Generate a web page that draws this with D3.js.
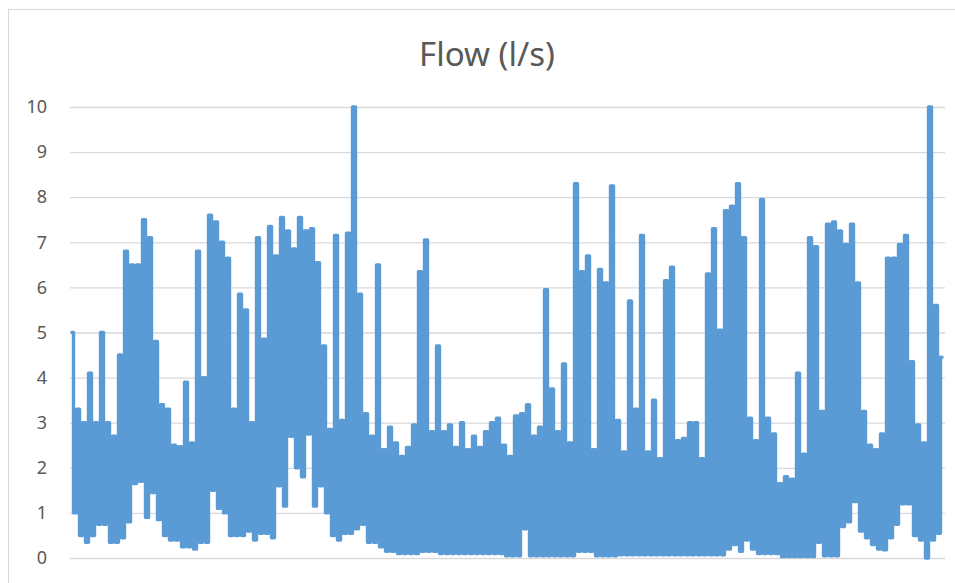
<!DOCTYPE html>
<html>
<head>
<meta charset="utf-8">
<script src="https://cdn.jsdelivr.net/npm/d3@7"></script>
<style>
  html, body { margin: 0; padding: 0; background: #fff; }
  #chart { width: 955px; height: 583px; }
</style>
</head>
<body>
<div id="chart"></div>
<script>
// Upper readings of the flow meter, one per sample pair, left to right
const peakFlow = [
    5.0, 3.3, 3.0, 4.1, 3.0, 5.0, 3.0, 2.7, 4.5, 6.8,
    6.5, 6.5, 7.5, 7.1, 4.8, 3.4, 3.3, 2.5, 2.47, 3.9,
    2.55, 6.8, 4.0, 7.6, 7.45, 7.0, 6.65, 3.3, 5.85, 5.5,
    3.0, 7.1, 4.85, 7.35, 6.7, 7.55, 7.25, 6.85, 7.55, 7.25,
    7.3, 6.55, 4.7, 2.85, 7.15, 3.05, 7.2, 10.0, 5.85, 3.2,
    2.7, 6.5, 2.4, 2.9, 2.55, 2.25, 2.45, 2.95, 6.35, 7.05,
    2.8, 4.7, 2.8, 2.95, 2.45, 3.0, 2.4, 2.7, 2.45, 2.8,
    3.0, 3.1, 2.5, 2.25, 3.15, 3.2, 3.4, 2.7, 2.9, 5.95,
    3.75, 2.8, 4.3, 2.55, 8.3, 6.35, 6.7, 2.4, 6.4, 6.1,
    8.25, 3.05, 2.35, 5.7, 3.3, 7.15, 2.35, 3.5, 2.2, 6.15,
    6.45, 2.6, 2.65, 3.0, 3.0, 2.2, 6.3, 7.3, 5.05, 7.7,
    7.8, 8.3, 7.1, 3.1, 2.6, 7.95, 3.1, 2.75, 1.65, 1.8,
    1.75, 4.1, 2.3, 7.1, 6.9, 3.25, 7.4, 7.45, 7.25, 6.95,
    7.4, 6.1, 3.25, 2.5, 2.4, 2.75, 6.65, 6.65, 6.95, 7.15,
    4.35, 2.95, 2.55, 10.0, 5.6
];

// Lower readings in between the peaks
const baseFlow = [
    1.0, 0.5, 0.35, 0.5, 0.75, 0.75, 0.35, 0.35, 0.45, 0.8,
    1.65, 1.7, 0.9, 1.45, 0.85, 0.5, 0.4, 0.4, 0.25, 0.25,
    0.2, 0.35, 0.35, 1.5, 1.1, 1.0, 0.5, 0.5, 0.5, 0.6,
    0.4, 0.55, 0.55, 0.45, 1.6, 1.15, 2.7, 2.0, 1.8, 2.75,
    1.15, 1.6, 1.0, 0.5, 0.4, 0.55, 0.55, 0.65, 0.75, 0.35,
    0.35, 0.25, 0.15, 0.15, 0.1, 0.1, 0.1, 0.1, 0.15, 0.15,
    0.15, 0.1, 0.1, 0.1, 0.1, 0.1, 0.1, 0.1, 0.1, 0.1,
    0.1, 0.1, 0.05, 0.05, 0.05, 0.65, 0.05, 0.05, 0.05, 0.05,
    0.05, 0.05, 0.05, 0.05, 0.15, 0.15, 0.15, 0.05, 0.05, 0.05,
    0.05, 0.07, 0.07, 0.07, 0.07, 0.07, 0.07, 0.07, 0.07, 0.07,
    0.07, 0.07, 0.07, 0.07, 0.07, 0.07, 0.07, 0.07, 0.07, 0.2,
    0.3, 0.15, 0.4, 0.2, 0.1, 0.1, 0.1, 0.1, 0.03, 0.03,
    0.03, 0.03, 0.03, 0.03, 0.35, 0.05, 0.05, 0.05, 0.7, 0.8,
    1.25, 0.6, 0.45, 0.3, 0.2, 0.18, 0.45, 0.75, 1.2, 1.2,
    0.5, 0.4, 0.0, 0.4, 0.55
];

const lastReading = 4.45;

const yTicks = [0, 1, 2, 3, 4, 5, 6, 7, 8, 9, 10];
const chartTitle = "Flow (l/s)";

// Series in reading order: peak, base, peak, base, ... then the last value
const flow = peakFlow.flatMap((p, i) => [p, baseFlow[i]]).concat([lastReading]);

// 1. Dimensions
const outerWidth = 955;
const outerHeight = 583;
const plot = { left: 70, right: 945, top: 107, bottom: 558 };

const svg = d3.select("#chart").append("svg")
    .attr("width", outerWidth)
    .attr("height", outerHeight);

// Chart area frame (right and bottom edges fall outside the picture)
svg.append("rect")
    .attr("x", 8.5)
    .attr("y", 9.5)
    .attr("width", 1000)
    .attr("height", 700)
    .attr("fill", "#fff")
    .attr("stroke", "#d9d9d9")
    .attr("stroke-width", 1);

// 2. Scales
const x = d3.scaleLinear()
    .domain([0, flow.length - 1])
    .range([72, 942]);

const y = d3.scaleLinear()
    .domain([0, 10])
    .range([plot.bottom, plot.top]);

// 3. Gridlines + tick labels
const yAxis = d3.axisLeft(y)
    .tickValues(yTicks)
    .tickSize(-(plot.right - plot.left))
    .tickPadding(23)
    .tickFormat(d3.format("d"));

const axisG = svg.append("g")
    .attr("transform", `translate(${plot.left},0)`)
    .call(yAxis);

axisG.select(".domain").remove();
axisG.selectAll(".tick line")
    .attr("stroke", "#d9d9d9")
    .attr("stroke-width", 1.3);
axisG.selectAll(".tick text")
    .style("font-family", "'Noto Sans', 'Open Sans', sans-serif")
    .style("font-size", "18px")
    .style("fill", "#595959");

// 4. Title
svg.append("text")
    .attr("x", 487)
    .attr("y", 66)
    .attr("text-anchor", "middle")
    .style("font-family", "'Noto Sans', 'Open Sans', sans-serif")
    .style("font-size", "33px")
    .style("fill", "#595959")
    .text(chartTitle);

// 5. Flow line — step curve so the dense readings fill in solid like the original
const line = d3.line()
    .x((d, i) => x(i))
    .y(d => y(d))
    .curve(d3.curveStep);

svg.append("path")
    .datum(flow)
    .attr("d", line)
    .attr("fill", "none")
    .attr("stroke", "#5b9bd5")
    .attr("stroke-width", 3.4)
    .attr("stroke-linejoin", "round")
    .attr("stroke-linecap", "round");
</script>
</body>
</html>
